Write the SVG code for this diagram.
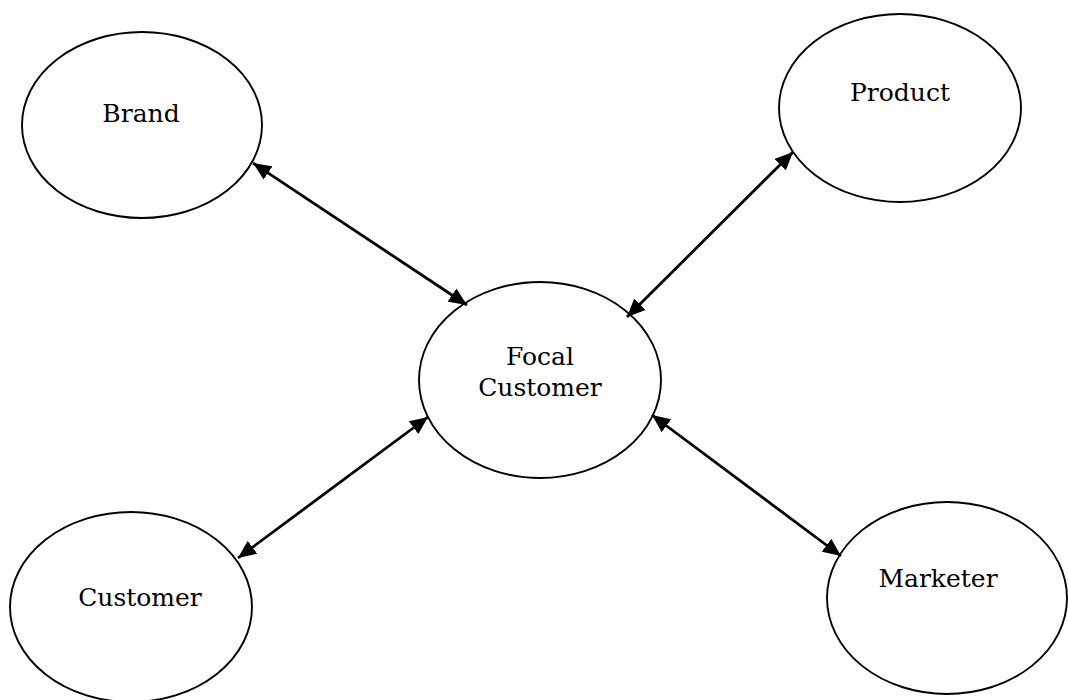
<svg xmlns="http://www.w3.org/2000/svg" width="1068" height="700" viewBox="0 0 1068 700">
  <defs>
    <style>
      .node ellipse { fill: #ffffff; stroke: #000000; stroke-width: 1.9; }
      .node text { font-family: "DejaVu Serif", "Liberation Serif", serif; font-size: 25px; fill: #000000; text-anchor: middle; }
      .link { stroke: #000000; stroke-width: 2.8; fill: none; marker-start: url(#head); marker-end: url(#head); }
    </style>
    <!-- filled triangular arrowhead, tip at the line end -->
    <marker id="head" markerUnits="userSpaceOnUse" markerWidth="20" markerHeight="16" refX="18" refY="8" orient="auto-start-reverse">
      <path d="M0,0 L18,8 L0,16 z" fill="#000000"/>
    </marker>
  </defs>
  <rect width="1068" height="700" fill="#ffffff"/>

  <g id="brand" class="node">
    <ellipse cx="142" cy="125" rx="120" ry="93"/>
    <text x="141" y="122">Brand</text>
  </g>
  <g id="product" class="node">
    <ellipse cx="900" cy="108" rx="121" ry="94"/>
    <text x="900" y="101">Product</text>
  </g>
  <g id="focal-customer" class="node">
    <ellipse cx="540" cy="380" rx="121" ry="98"/>
    <text x="540" y="365">Focal</text>
    <text x="540" y="396">Customer</text>
  </g>
  <g id="customer" class="node">
    <ellipse cx="131" cy="607" rx="121" ry="95"/>
    <text x="140" y="606">Customer</text>
  </g>
  <g id="marketer" class="node">
    <ellipse cx="947" cy="598" rx="120" ry="96"/>
    <text x="938" y="587">Marketer</text>
  </g>

  <g id="connectors">
    <line class="link" x1="253" y1="163" x2="467" y2="305"/>
    <line class="link" x1="793" y1="152" x2="627" y2="317"/>
    <line class="link" x1="238" y1="558" x2="428" y2="417"/>
    <line class="link" x1="652" y1="415" x2="841" y2="556"/>
  </g>
</svg>
